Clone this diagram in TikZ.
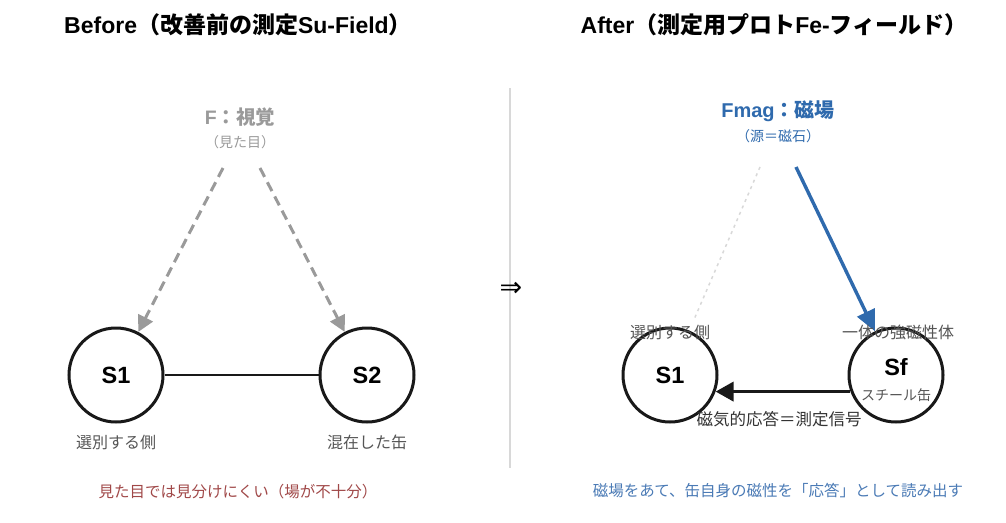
\documentclass[tikz,border=0pt]{standalone}
\usepackage{fontspec}
\setmainfont{Liberation Sans}
\newfontfamily\cjk{Noto Sans CJK JP}
\newfontfamily\dejavu{DejaVu Sans}
\usetikzlibrary{arrows.meta}
\definecolor{fgray}{HTML}{9A9A9A}
\definecolor{lgray}{HTML}{555555}
\definecolor{dred}{HTML}{A04848}
\definecolor{mblue}{HTML}{2F6AAD}
\definecolor{tblue}{HTML}{4A7AB5}
\definecolor{divgray}{HTML}{D8D8D8}
\newcommand{\fs}[1]{\fontsize{#1}{#1}\selectfont}
\tikzset{
  ent/.style={circle,draw=black!90,line width=3pt,minimum size=94pt,inner sep=0pt,font=\fs{23.5}\bfseries},
  lab/.style={inner sep=0pt,text=lgray,font=\fs{16}\cjk},
  ttl/.style={inner sep=0pt,font=\fs{23}\bfseries},
}
\begin{document}
\begin{tikzpicture}[x=1pt,y=-1pt]
\useasboundingbox (0,0) rectangle (1006,522);
% titles
\node[ttl] (tL) at (238,25) {Before{\cjk（改善前の測定}Su-Field{\cjk）}};
\node[ttl] (tR) at (774,25) {After{\cjk（測定用プロト}Fe-{\cjk フィールド）}};
% divider
\coordinate (dTop) at (510,88);
\coordinate (dBot) at (510,468);
\draw[divgray,line width=1.5pt] (dTop) -- (dBot);
\node[inner sep=0pt,font=\fs{27}\dejavu] (imp) at (511,289) {⇒};
% ---- Before ----
\node[inner sep=0pt,text=fgray,font=\fs{19.5}\bfseries] (F) at (240,117) {F{\cjk：視覚}};
\node[inner sep=0pt,text=fgray,font=\fs{14}\cjk] (Fs) at (240,142) {（見た目）};
\node[ent] (S1) at (116,375) {S1};
\node[ent] (S2) at (367,375) {S2};
\coordinate (fa) at (223,168);
\coordinate (fb) at (260,168);
\draw[fgray,line width=3pt,dash pattern=on 10pt off 6pt,-{Triangle[length=16pt,width=16pt]}] (fa) -- (S1);
\draw[fgray,line width=3pt,dash pattern=on 10pt off 6pt,-{Triangle[length=16pt,width=16pt]}] (fb) -- (S2);
\draw[black!90,line width=2.6pt] (S1) -- (S2);
\node[lab] (l1) at (116,442) {選別する側};
\node[lab] (l2) at (367,442) {混在した缶};
\node[inner sep=0pt,text=dred,font=\fs{15.5}\cjk] (bn) at (238,492) {見た目では見分けにくい（場が不十分）};
% ---- After ----
\node[inner sep=0pt,text=mblue,font=\fs{20}\bfseries] (Fm) at (778,111) {Fmag{\cjk：磁場}};
\node[inner sep=0pt,text=mblue,font=\fs{14}\cjk] (Fms) at (778,136) {（源＝磁石）};
\node[ent] (R1) at (670,375) {S1};
\node[ent] (Sf) at (896,375) {};
\node[inner sep=0pt,font=\fs{23.5}\bfseries] (SfT) at (896,367) {Sf};
\node[inner sep=0pt,text=lgray,font=\fs{14}\cjk] (SfS) at (896,395) {スチール缶};
\coordinate (ga) at (760,167);
\coordinate (gb) at (796,167);
\draw[divgray,line width=1.5pt,dash pattern=on 3pt off 4pt,shorten >=14pt] (ga) -- (R1);
\draw[mblue,line width=3.4pt,-{Triangle[length=21pt,width=19pt]}] (gb) -- (Sf);
\draw[black!90,line width=3.8pt,-{Triangle[length=18pt,width=19pt]}] (Sf.200.7) -- (R1.-20.7);
\node[lab] (r1) at (670,332) {選別する側};
\node[lab] (r2) at (898,332) {一体の強磁性体};
\node[inner sep=0pt,text=black!80,font=\fs{16.5}\cjk] (sig) at (779,419) {磁気的応答＝測定信号};
\node[inner sep=0pt,text=tblue,font=\fs{15.5}\cjk] (an) at (778,491) {磁場をあて、缶自身の磁性を「応答」として読み出す};
\end{tikzpicture}
\end{document}
